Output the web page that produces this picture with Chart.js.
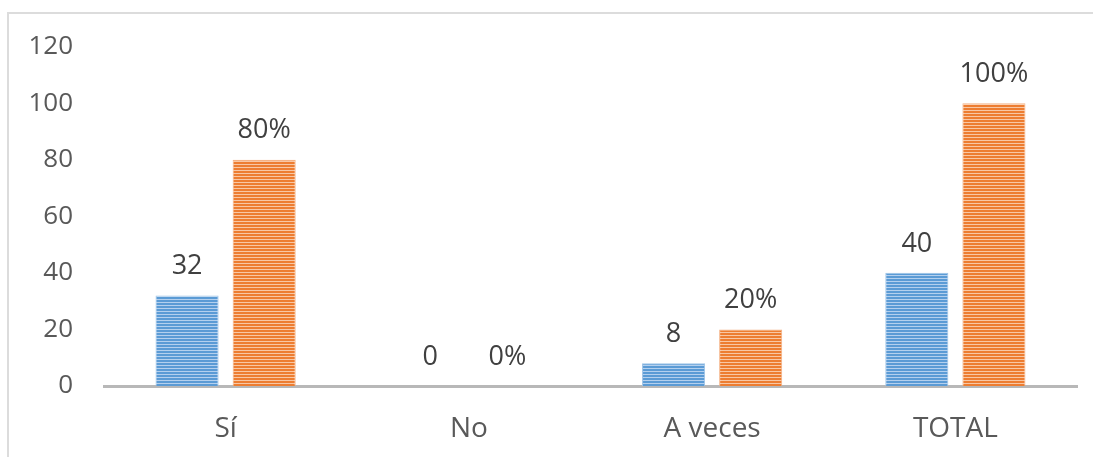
<!DOCTYPE html>
<html lang="es">
<head>
<meta charset="UTF-8">
<title>Sí / No / A veces</title>
<script src="https://cdn.jsdelivr.net/npm/chart.js"></script>
<style>
    html, body { margin: 0; padding: 0; background: #fff; }
    #wrap { position: relative; width: 1093px; height: 457px; }
    #frame {
        position: absolute; left: 7px; top: 12px; right: 0; bottom: 0;
        border-left: 2px solid #dcdcdc; border-top: 2px solid #dcdcdc;
    }
    #chart { position: absolute; left: 0; top: 0; }
</style>
</head>
<body>
<div id="wrap">
    <div id="frame"></div>
    <canvas id="chart" width="1093" height="457"></canvas>
</div>
<script>
// data
const categories = ['Sí', 'No', 'A veces', 'TOTAL'];
const counts = [32, 0, 8, 40];
const percents = [80, 0, 20, 100];
const yTicks = [0, 20, 40, 60, 80, 100, 120];

// horizontal stripe fill like the office pattern
function stripes(dark, light) {
    const c = document.createElement('canvas');
    c.width = 4; c.height = 3;
    const g = c.getContext('2d');
    g.fillStyle = dark;
    g.fillRect(0, 0, 4, 3);
    g.fillStyle = light;
    g.fillRect(0, 2, 4, 1);
    return g.createPattern(c, 'repeat');
}

const font = '"Open Sans", "Liberation Sans", sans-serif';

// labels above the bars
const barLabels = {
    id: 'barLabels',
    afterDatasetsDraw(chart) {
        const ctx = chart.ctx;
        ctx.save();
        ctx.font = '27px ' + font;
        ctx.fillStyle = '#404040';
        ctx.textAlign = 'center';
        ctx.textBaseline = 'middle';
        chart.data.datasets.forEach((ds, i) => {
            chart.getDatasetMeta(i).data.forEach((bar, j) => {
                const txt = i === 1 ? ds.data[j] + '%' : String(ds.data[j]);
                ctx.fillText(txt, bar.x, bar.y - 29);
            });
        });
        ctx.restore();
    }
};

new Chart(document.getElementById('chart'), {
    type: 'bar',
    data: {
        labels: categories,
        datasets: [
            {
                label: 'Frecuencia',
                data: counts,
                backgroundColor: stripes('#5b9bd5', '#b4d0ee'),
                borderColor: '#9dc3e6',
                borderWidth: 1
            },
            {
                label: 'Porcentaje',
                data: percents,
                backgroundColor: stripes('#ed7d31', '#f8c7a4'),
                borderColor: '#f4b183',
                borderWidth: 1
            }
        ]
    },
    options: {
        responsive: false,
        animation: false,
        categoryPercentage: 0.634,
        barPercentage: 0.818,
        layout: { padding: { left: 0, right: 16, top: 46, bottom: 0 } },
        plugins: {
            legend: { display: false },
            tooltip: { enabled: false }
        },
        scales: {
            x: {
                grid: { display: false, drawTicks: false },
                border: { color: '#b8b8b8', width: 3 },
                ticks: { color: '#595959', font: { size: 28, family: font }, padding: 26 },
                afterFit(scale) { scale.height = 71; }
            },
            y: {
                min: 0,
                max: 120,
                grid: { display: false, drawTicks: false },
                border: { display: false },
                afterBuildTicks(scale) { scale.ticks = yTicks.map(v => ({ value: v })); },
                ticks: { color: '#595959', font: { size: 26, family: font }, padding: 31 },
                afterFit(scale) { scale.width = 104; }
            }
        }
    },
    plugins: [barLabels]
});
</script>
</body>
</html>
